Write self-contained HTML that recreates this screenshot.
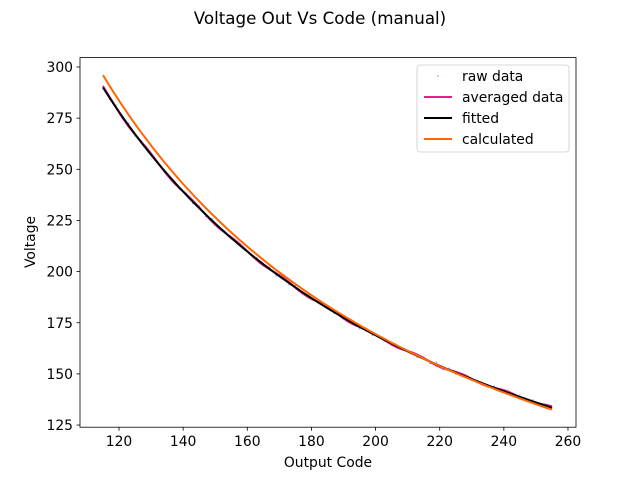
<!DOCTYPE html>
<html><head><meta charset="utf-8"><style>
body{margin:0;background:#fff;}
svg text{font-family:"DejaVu Sans","Liberation Sans",sans-serif;fill:#000;}
</style></head><body>
<svg id="s" width="640" height="480" xmlns="http://www.w3.org/2000/svg">
<rect width="640" height="480" fill="#fff"/>
<text x="320" y="24" font-size="16.7" text-anchor="middle">Voltage Out Vs Code (manual)</text>
<g id="plot"></g>
<rect x="80" y="57.6" width="496" height="369.6" fill="none" stroke="#000" stroke-width="0.8"/>
<g id="ticks" font-size="13.9"></g>
<text x="328" y="467" font-size="13.9" text-anchor="middle">Output Code</text>
<text transform="translate(35,242) rotate(-90)" font-size="13.9" text-anchor="middle">Voltage</text>
<g>
<rect x="417" y="65" width="152" height="87" rx="3" fill="#fff" fill-opacity="0.8" stroke="#ccc" stroke-width="0.8"/>
<circle cx="438" cy="76" r="0.8" fill="#8888ff"/>
<text x="462" y="81" font-size="13.9">raw data</text>
<line x1="424" y1="97" x2="452" y2="97" stroke="#e0218a" stroke-width="2"/>
<text x="462" y="102" font-size="13.9">averaged data</text>
<line x1="424" y1="118" x2="452" y2="118" stroke="#000" stroke-width="2"/>
<text x="462" y="123" font-size="13.9">fitted</text>
<line x1="424" y1="139" x2="452" y2="139" stroke="#ff6600" stroke-width="2"/>
<text x="462" y="144" font-size="13.9">calculated</text>
</g>
</svg>
<script>
var X=function(v){return 119+(v-120)*3.207;},Y=function(v){return 67+(300-v)*2.046;};
var ns="http://www.w3.org/2000/svg",plot=document.getElementById('plot'),tk=document.getElementById('ticks');
function path(f,col,w,noise){var d="";for(var x=115;x<=255;x+=1){var v=f(x)+(noise?noise(x):0);d+=(d?"L":"M")+X(x).toFixed(1)+","+Y(v).toFixed(1);}
var p=document.createElementNS(ns,"path");p.setAttribute("d",d);p.setAttribute("fill","none");p.setAttribute("stroke",col);p.setAttribute("stroke-width",w);plot.appendChild(p);}
var fit=function(x){return 32782/x+4.94;},calc=function(x){return 34248/x-1.8;};
for(var x=115;x<=255;x+=2){var c=document.createElementNS(ns,"circle");c.setAttribute("cx",X(x));c.setAttribute("cy",Y(fit(x)+Math.sin(x*1.7)*1.0));c.setAttribute("r",0.7);c.setAttribute("fill","#8888ff");plot.appendChild(c);}
path(fit,"#e0218a",2,function(x){return Math.sin(x*0.45)*0.6;});
path(fit,"#000",2);
path(calc,"#ff6600",2);
for(var v=120;v<=260;v+=20){var l=document.createElementNS(ns,"line");l.setAttribute("x1",X(v));l.setAttribute("x2",X(v));l.setAttribute("y1",427.2);l.setAttribute("y2",430.7);l.setAttribute("stroke","#000");l.setAttribute("stroke-width",0.8);tk.appendChild(l);
var t=document.createElementNS(ns,"text");t.setAttribute("x",X(v));t.setAttribute("y",446);t.setAttribute("text-anchor","middle");t.textContent=v;tk.appendChild(t);}
for(var v=125;v<=300;v+=25){var l=document.createElementNS(ns,"line");l.setAttribute("x1",76.5);l.setAttribute("x2",80);l.setAttribute("y1",Y(v));l.setAttribute("y2",Y(v));l.setAttribute("stroke","#000");l.setAttribute("stroke-width",0.8);tk.appendChild(l);
var t=document.createElementNS(ns,"text");t.setAttribute("x",73);t.setAttribute("y",Y(v)+5);t.setAttribute("text-anchor","end");t.textContent=v;tk.appendChild(t);}
</script>
</body></html>
